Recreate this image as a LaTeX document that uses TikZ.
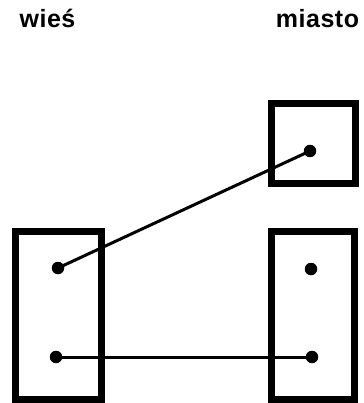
\documentclass[tikz,border=0pt]{standalone}
\usepackage{fontspec}
\setmainfont{Liberation Sans}
\begin{document}
\begin{tikzpicture}[x=1pt,y=-1pt,
  box/.style={draw=black,line width=7pt,inner sep=0pt,fill=none},
  dot/.style={circle,fill=black,inner sep=0pt,minimum size=12.5pt},
  conn/.style={draw=black,line width=3pt},
  lab/.style={anchor=base,inner sep=0pt,font=\fontsize{25}{30}\selectfont\bfseries}]
\useasboundingbox[fill=white] (0,0) rectangle (363,403);
\node[lab] (wies) at (47.5,27.5) {w\kern0.5pt i\kern0.5pt e\kern0.5pt ś};
\node[lab] (miasto) at (317.5,27.5) {m\kern0.5pt i\kern0.5pt a\kern0.5pt s\kern0.5pt t\kern0.5pt o};
\node[box,minimum width=83.5pt,minimum height=79pt] (bt) at (313.25,143.5) {};
\node[box,minimum width=86pt,minimum height=168pt] (bl) at (58,315.5) {};
\node[box,minimum width=82.5pt,minimum height=168pt] (br) at (312.75,315.5) {};
\node[dot] (l1) at (58,268) {};
\node[dot] (l2) at (56,357) {};
\node[dot] (r0) at (310,151) {};
\node[dot] (r1) at (311,269) {};
\node[dot] (r2) at (312,357) {};
\draw[conn] (l1.center) -- (r0.center);
\draw[conn] (l2.center) -- (r2.center);
\end{tikzpicture}
\end{document}
